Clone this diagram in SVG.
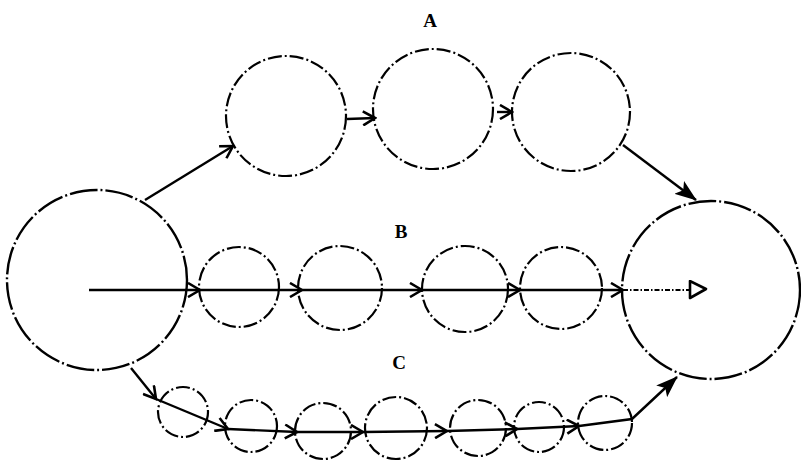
<svg xmlns="http://www.w3.org/2000/svg" width="801" height="461" viewBox="0 0 801 461">
<style>
.node{fill:none;stroke:#000;stroke-width:2.2;stroke-dasharray:14 3 2 3;}
.big{fill:none;stroke:#000;stroke-width:2.4;stroke-dasharray:28 3 2 3;}
.edge{fill:none;stroke:#000;stroke-width:2.4;}
.dot{fill:none;stroke:#000;stroke-width:1.8;stroke-dasharray:5 2 1.5 2;}
.lbl{font-family:"Liberation Serif",serif;font-weight:bold;font-size:19px;fill:#000;text-anchor:middle;}
</style>
<defs>
<marker id="open" viewBox="0 0 16 16" refX="14" refY="8" markerWidth="16" markerHeight="16" markerUnits="userSpaceOnUse" orient="auto">
<path d="M2,1 L14,8 L2,15" fill="none" stroke="#000" stroke-width="2.6"/>
</marker>
<marker id="solid" viewBox="0 0 22 16" refX="21" refY="8" markerWidth="22" markerHeight="16" markerUnits="userSpaceOnUse" orient="auto">
<path d="M0,0 L22,8 L0,16 L5,8 Z" fill="#000"/>
</marker>
<marker id="tri" viewBox="0 0 20 20" refX="2" refY="10" markerWidth="20" markerHeight="20" markerUnits="userSpaceOnUse" orient="auto">
<path d="M2,1 L18,9 L2,18 Z" fill="#fff" stroke="#000" stroke-width="2.6" stroke-linejoin="round"/>
</marker>
</defs>

<g id="labels">
<text class="lbl" x="430" y="27">A</text>
<text class="lbl" x="401" y="238">B</text>
<text class="lbl" x="399" y="369">C</text>
</g>

<g id="start"><circle class="big" cx="97" cy="280" r="90"/></g>
<g id="end"><circle class="big" cx="711" cy="290" r="89"/></g>

<g id="A1"><circle class="node" cx="286" cy="116" r="60"/></g>
<g id="A2"><circle class="node" cx="433" cy="109" r="60"/></g>
<g id="A3"><circle class="node" cx="571" cy="112" r="59"/></g>

<g id="B1"><circle class="node" cx="239" cy="287" r="40"/></g>
<g id="B2"><circle class="node" cx="340" cy="288" r="42"/></g>
<g id="B3"><circle class="node" cx="465" cy="289" r="43"/></g>
<g id="B4"><circle class="node" cx="561" cy="288" r="41"/></g>

<g id="C1"><circle class="node" cx="183" cy="412" r="25"/></g>
<g id="C2"><circle class="node" cx="251" cy="426" r="26"/></g>
<g id="C3"><circle class="node" cx="323" cy="431" r="28"/></g>
<g id="C4"><circle class="node" cx="396" cy="428" r="31"/></g>
<g id="C5"><circle class="node" cx="478" cy="428" r="28"/></g>
<g id="C6"><circle class="node" cx="539" cy="427" r="25"/></g>
<g id="C7"><circle class="node" cx="605" cy="423" r="27"/></g>

<g id="connectors">
<!-- path A -->
<line class="edge" x1="145" y1="200" x2="233" y2="146" marker-end="url(#open)"/>
<line class="edge" x1="347" y1="119" x2="375" y2="118" marker-end="url(#open)"/>
<line class="edge" x1="497" y1="112" x2="512" y2="112" marker-end="url(#open)"/>
<line class="edge" x1="623" y1="145" x2="696" y2="200" marker-end="url(#solid)"/>
<!-- path B -->
<line class="edge" x1="89" y1="290" x2="200" y2="290" marker-end="url(#open)"/>
<line class="edge" x1="200" y1="290" x2="302" y2="290" marker-end="url(#open)"/>
<line class="edge" x1="302" y1="290" x2="422" y2="290" marker-end="url(#open)"/>
<line class="edge" x1="422" y1="290" x2="520" y2="290" marker-end="url(#open)"/>
<line class="edge" x1="520" y1="290" x2="623" y2="290" marker-end="url(#open)"/>
<line class="dot" x1="623" y1="290" x2="690" y2="290" marker-end="url(#tri)"/>
<!-- path C -->
<line class="edge" x1="131" y1="368" x2="156" y2="399" marker-end="url(#open)"/>
<line class="edge" x1="156" y1="399" x2="228" y2="429" marker-end="url(#open)"/>
<line class="edge" x1="228" y1="429" x2="297" y2="432" marker-end="url(#open)"/>
<line class="edge" x1="297" y1="432" x2="363" y2="432" marker-end="url(#open)"/>
<line class="edge" x1="363" y1="432" x2="447" y2="431" marker-end="url(#open)"/>
<line class="edge" x1="447" y1="431" x2="517" y2="429" marker-end="url(#open)"/>
<line class="edge" x1="517" y1="429" x2="579" y2="426" marker-end="url(#open)"/>
<polyline class="edge" points="579,426 632,419 677,377" marker-end="url(#solid)"/>
</g>
</svg>
